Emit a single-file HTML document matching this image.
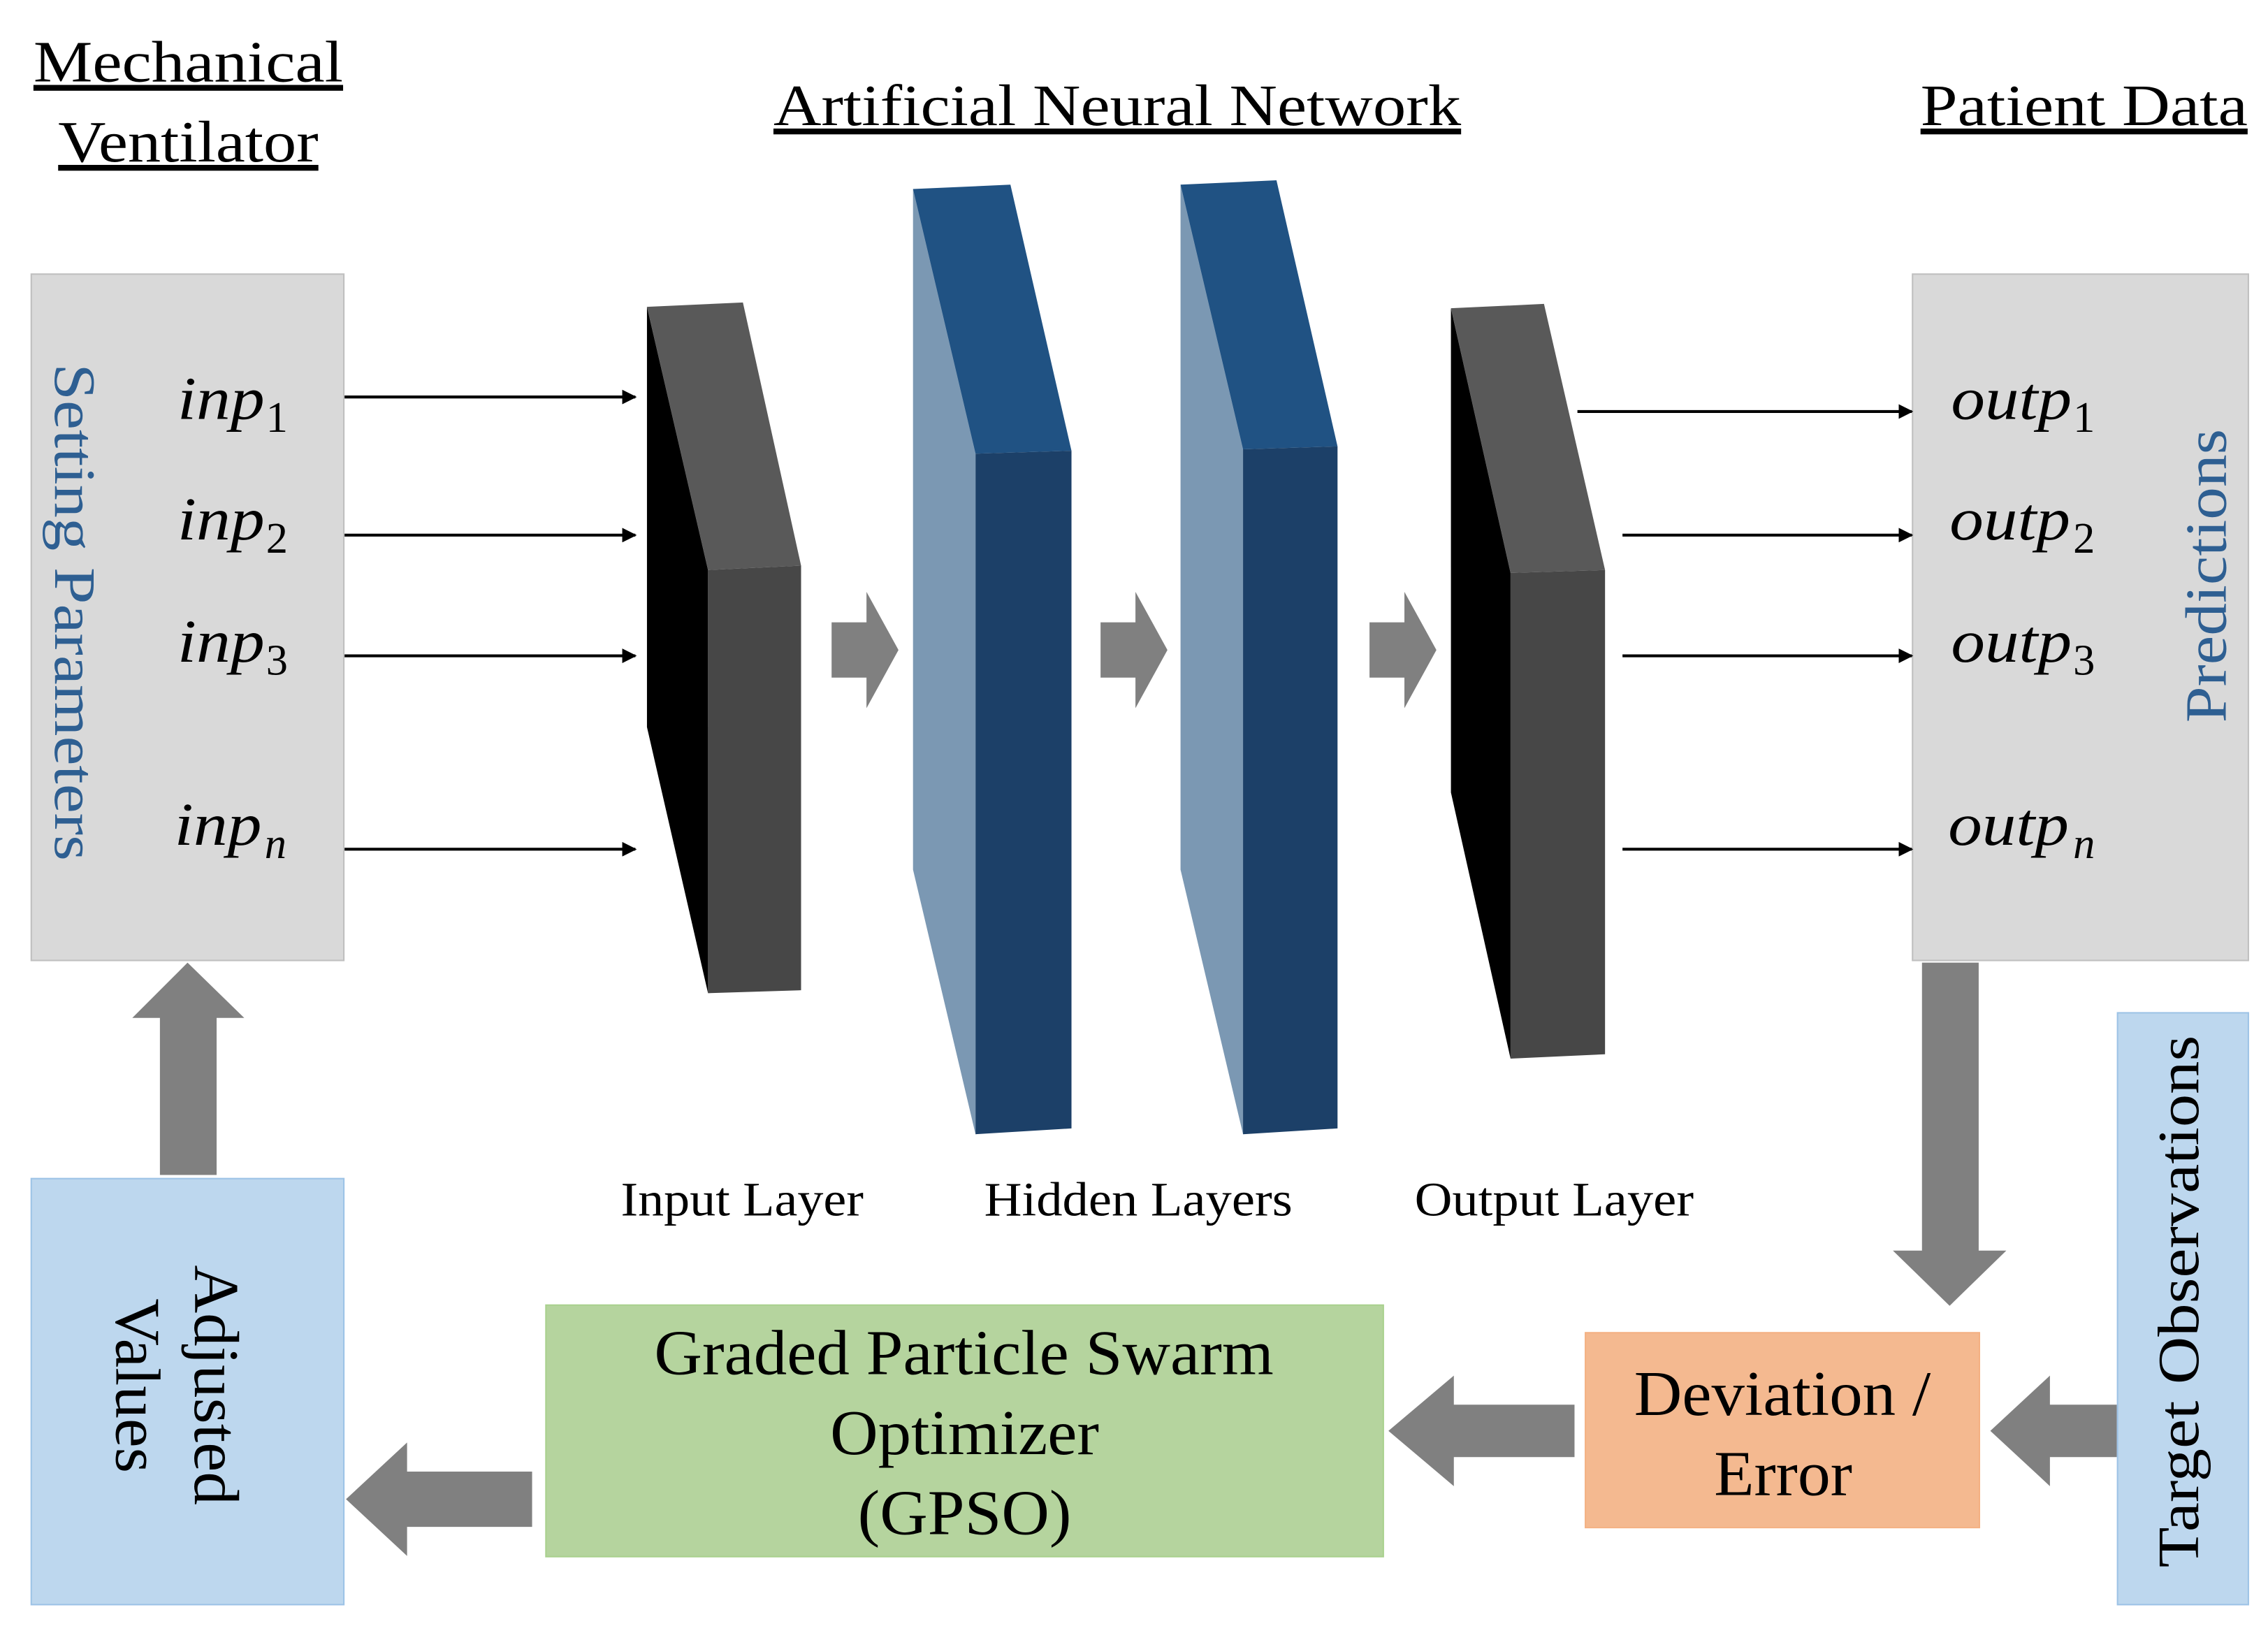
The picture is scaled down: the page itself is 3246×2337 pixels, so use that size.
<!DOCTYPE html>
<html><head><meta charset="utf-8"><style>html,body{margin:0;padding:0;background:#fff}svg{display:block}</style></head>
<body>
<svg width="3246" height="2337" viewBox="0 0 1560 1123" preserveAspectRatio="none" xmlns="http://www.w3.org/2000/svg" font-family="Liberation Serif, serif">
<defs><marker id="ah" markerWidth="10" markerHeight="10" refX="9" refY="5" orient="auto" markerUnits="userSpaceOnUse" viewBox="0 0 10 10"><path d="M0,0 L10,5 L0,10 z" fill="#000"/></marker></defs>
<g font-size="40" fill="#000" text-decoration="underline">
<text x="23" y="56" textLength="213" lengthAdjust="spacingAndGlyphs">Mechanical</text>
<text x="40" y="111" textLength="179" lengthAdjust="spacingAndGlyphs">Ventilator</text>
<text x="532" y="86" textLength="473" lengthAdjust="spacingAndGlyphs">Artificial Neural Network</text>
<text x="1321" y="86" textLength="225" lengthAdjust="spacingAndGlyphs">Patient Data</text>
</g>
<rect x="21.5" y="188.5" width="215" height="472" fill="#d9d9d9" stroke="#bfbfbf"/>
<rect x="1315.5" y="188.5" width="231" height="472" fill="#d9d9d9" stroke="#bfbfbf"/>
<text transform="translate(38,250) rotate(90)" font-size="40" fill="#2e5f92" textLength="342" lengthAdjust="spacingAndGlyphs">Setting Parameters</text>
<text transform="translate(1531,497) rotate(-90)" font-size="40" fill="#2e5f92" textLength="202" lengthAdjust="spacingAndGlyphs">Predictions</text>
<g font-size="42" font-style="italic" fill="#000">
<text x="122" y="288" textLength="60" lengthAdjust="spacingAndGlyphs">inp</text><text x="183" y="297" font-size="30" font-style="normal">1</text>
<text x="122" y="371" textLength="60" lengthAdjust="spacingAndGlyphs">inp</text><text x="183" y="380" font-size="30" font-style="normal">2</text>
<text x="122" y="455" textLength="60" lengthAdjust="spacingAndGlyphs">inp</text><text x="183" y="464" font-size="30" font-style="normal">3</text>
<text x="120" y="581" textLength="60" lengthAdjust="spacingAndGlyphs">inp</text><text x="182" y="590" font-size="30">n</text>
<text x="1342" y="288" textLength="83" lengthAdjust="spacingAndGlyphs">outp</text><text x="1426" y="297" font-size="30" font-style="normal">1</text>
<text x="1341" y="371" textLength="83" lengthAdjust="spacingAndGlyphs">outp</text><text x="1426" y="380" font-size="30" font-style="normal">2</text>
<text x="1342" y="455" textLength="83" lengthAdjust="spacingAndGlyphs">outp</text><text x="1426" y="464" font-size="30" font-style="normal">3</text>
<text x="1340" y="581" textLength="83" lengthAdjust="spacingAndGlyphs">outp</text><text x="1426" y="590" font-size="30">n</text>
</g>
<g stroke="#000" stroke-width="2" marker-end="url(#ah)">
<line x1="237" y1="273" x2="437" y2="273"/><line x1="237" y1="368" x2="437" y2="368"/>
<line x1="237" y1="451" x2="437" y2="451"/><line x1="237" y1="584" x2="437" y2="584"/>
<line x1="1085" y1="283" x2="1315" y2="283"/><line x1="1116" y1="368" x2="1315" y2="368"/>
<line x1="1116" y1="451" x2="1315" y2="451"/><line x1="1116" y1="584" x2="1315" y2="584"/>
</g>
<polygon points="445,211 487,392 487,683 445,500" fill="#000"/>
<polygon points="445,211 511,208 551,389 487,392" fill="#595959"/>
<polygon points="487,392 551,389 551,681 487,683" fill="#474747"/>
<polygon points="628,130 671,312 671,780 628,598" fill="#7b98b3"/>
<polygon points="628,130 695,127 737,310 671,312" fill="#205283"/>
<polygon points="671,312 737,310 737,776 671,780" fill="#1c4068"/>
<polygon points="812,127 855,309 855,780 812,598" fill="#7b98b3"/>
<polygon points="812,127 878,124 920,307 855,309" fill="#205283"/>
<polygon points="855,309 920,307 920,776 855,780" fill="#1c4068"/>
<polygon points="998,212 1039,394 1039,728 998,545" fill="#000"/>
<polygon points="998,212 1062,209 1104,392 1039,394" fill="#595959"/>
<polygon points="1039,394 1104,392 1104,725 1039,728" fill="#474747"/>
<g fill="#808080">
<polygon points="572,428 596,428 596,407 618,447 596,487 596,466 572,466"/>
<polygon points="757,428 781,428 781,407 803,447 781,487 781,466 757,466"/>
<polygon points="942,428 966,428 966,407 988,447 966,487 966,466 942,466"/>
<polygon points="1322,662 1361,662 1361,860 1380,860 1341,898 1302,860 1322,860"/>
<polygon points="1456,966 1410,966 1410,946 1369,984 1410,1022 1410,1002 1456,1002"/>
<polygon points="1083,966 1000,966 1000,946 955,984 1000,1022 1000,1002 1083,1002"/>
<polygon points="366,1012 280,1012 280,992 238,1031 280,1070 280,1050 366,1050"/>
<polygon points="110,808 149,808 149,700 168,700 129,662 91,700 110,700"/>
</g>
<g font-size="33" fill="#000">
<text x="427" y="836" textLength="167" lengthAdjust="spacingAndGlyphs">Input Layer</text>
<text x="677" y="836" textLength="212" lengthAdjust="spacingAndGlyphs">Hidden Layers</text>
<text x="973" y="836" textLength="192" lengthAdjust="spacingAndGlyphs">Output Layer</text>
</g>
<rect x="1456.5" y="696.5" width="90" height="407" fill="#bdd7ee" stroke="#9dc3e6"/>
<text transform="translate(1512,1078) rotate(-90)" font-size="40" textLength="366" lengthAdjust="spacingAndGlyphs">Target Observations</text>
<rect x="1090.5" y="916.5" width="271" height="134" fill="#f4b990" stroke="#f4b183"/>
<g font-size="44">
<text x="1124" y="973" textLength="204" lengthAdjust="spacingAndGlyphs">Deviation /</text>
<text x="1179" y="1028" textLength="95" lengthAdjust="spacingAndGlyphs">Error</text></g>
<rect x="375.5" y="897.5" width="576" height="173" fill="#b5d49e" stroke="#a9d18e"/>
<g font-size="44">
<text x="450" y="945" textLength="426" lengthAdjust="spacingAndGlyphs">Graded Particle Swarm</text>
<text x="571" y="1000" textLength="185" lengthAdjust="spacingAndGlyphs">Optimizer</text>
<text x="590" y="1055" textLength="147" lengthAdjust="spacingAndGlyphs">(GPSO)</text></g>
<rect x="21.5" y="810.5" width="215" height="293" fill="#bdd7ee" stroke="#9dc3e6"/>
<g font-size="44">
<text transform="translate(134,870) rotate(90)" textLength="165" lengthAdjust="spacingAndGlyphs">Adjusted</text>
<text transform="translate(80,893) rotate(90)" textLength="120" lengthAdjust="spacingAndGlyphs">Values</text>
</g>
</svg>
</body></html>
